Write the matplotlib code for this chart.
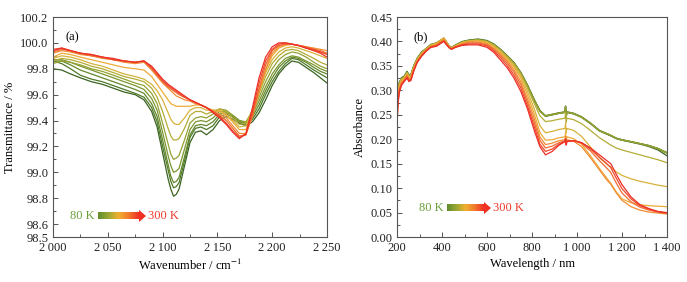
import numpy as np
import matplotlib
matplotlib.use("Agg")
import matplotlib.pyplot as plt
from matplotlib.colors import LinearSegmentedColormap
from matplotlib.patches import Polygon
from matplotlib.ticker import MultipleLocator, FixedLocator

plt.rcParams['font.family'] = ['Liberation Serif', 'DejaVu Serif']
plt.rcParams['mathtext.fontset'] = 'stix'

# ---------------- data ----------------
temps = [80, 100, 120, 140, 160, 180, 200, 220, 240, 260, 280, 300]
colors = ['#3b6322', '#4f7a2a', '#64882c', '#7b962f', '#94a232', '#b4ac36',
          '#d6b23a', '#ecab38', '#f08c34', '#f06b30', '#ee4a2c', '#ec2f28']

# Panel (a): transmittance (%) vs wavenumber (cm-1)
wavenumber = [2000, 2008, 2016, 2025, 2035, 2045, 2055, 2065, 2075, 2083, 2090, 2095, 2100,
              2105, 2107.5, 2110, 2112.5, 2115, 2120, 2125, 2130, 2135, 2140, 2146, 2152, 2158, 2164, 2170,
              2176, 2182, 2188, 2194, 2200, 2206, 2212, 2218, 2224, 2231, 2238, 2244, 2250]
trans_80K = [99.80, 99.79, 99.76, 99.73, 99.70, 99.68, 99.65, 99.62, 99.60, 99.56, 99.47, 99.35, 99.15,
             98.95, 98.87, 98.815, 98.83, 98.87, 99.05, 99.23, 99.31, 99.32, 99.29, 99.33, 99.40, 99.43, 99.41, 99.38,
             99.36, 99.39, 99.46, 99.56, 99.67, 99.76, 99.82, 99.86, 99.85, 99.81, 99.77, 99.73, 99.69]
trans_100K = [99.86, 99.84, 99.80, 99.75, 99.72, 99.70, 99.67, 99.64, 99.61, 99.58, 99.50, 99.39, 99.20,
              99.02, 98.93, 98.88, 98.89, 98.92, 99.09, 99.27, 99.34, 99.35, 99.33, 99.36, 99.43, 99.45, 99.43, 99.39,
              99.37, 99.41, 99.49, 99.60, 99.70, 99.78, 99.84, 99.88, 99.87, 99.83, 99.79, 99.76, 99.73]
trans_120K = [99.86, 99.86, 99.83, 99.79, 99.76, 99.73, 99.70, 99.67, 99.64, 99.61, 99.53, 99.43, 99.25,
              99.06, 98.97, 98.92, 98.93, 98.96, 99.12, 99.29, 99.36, 99.37, 99.36, 99.39, 99.45, 99.46, 99.44, 99.40,
              99.38, 99.43, 99.52, 99.63, 99.73, 99.81, 99.86, 99.89, 99.88, 99.85, 99.81, 99.78, 99.76]
trans_140K = [99.87, 99.87, 99.85, 99.82, 99.79, 99.76, 99.73, 99.70, 99.67, 99.64, 99.57, 99.48, 99.31,
              99.13, 99.05, 99.00, 99.01, 99.03, 99.18, 99.33, 99.39, 99.40, 99.39, 99.42, 99.47, 99.47, 99.44, 99.40,
              99.39, 99.45, 99.55, 99.66, 99.76, 99.83, 99.88, 99.90, 99.89, 99.86, 99.83, 99.80, 99.78]
trans_160K = [99.84, 99.86, 99.85, 99.83, 99.80, 99.78, 99.75, 99.72, 99.69, 99.67, 99.61, 99.53, 99.38,
              99.22, 99.14, 99.10, 99.11, 99.13, 99.25, 99.38, 99.42, 99.43, 99.42, 99.45, 99.49, 99.48, 99.44, 99.39,
              99.39, 99.47, 99.58, 99.70, 99.80, 99.87, 99.91, 99.93, 99.92, 99.89, 99.85, 99.82, 99.80]
trans_180K = [99.86, 99.88, 99.87, 99.85, 99.82, 99.80, 99.77, 99.74, 99.72, 99.70, 99.65, 99.58, 99.47,
              99.34, 99.28, 99.25, 99.25, 99.26, 99.34, 99.44, 99.47, 99.47, 99.45, 99.47, 99.49, 99.47, 99.42, 99.37,
              99.38, 99.48, 99.61, 99.74, 99.84, 99.90, 99.94, 99.95, 99.94, 99.91, 99.88, 99.85, 99.83]
trans_200K = [99.88, 99.90, 99.89, 99.87, 99.84, 99.82, 99.79, 99.76, 99.74, 99.72, 99.68, 99.63, 99.56,
              99.46, 99.41, 99.38, 99.37, 99.37, 99.42, 99.48, 99.50, 99.50, 99.48, 99.48, 99.48, 99.45, 99.40, 99.35,
              99.36, 99.48, 99.63, 99.77, 99.87, 99.93, 99.96, 99.97, 99.96, 99.94, 99.92, 99.90, 99.88]
trans_220K = [99.89, 99.92, 99.91, 99.89, 99.87, 99.85, 99.83, 99.81, 99.80, 99.79, 99.74, 99.68, 99.62,
              99.56, 99.53, 99.52, 99.51, 99.51, 99.51, 99.51, 99.52, 99.52, 99.50, 99.48, 99.47, 99.44, 99.39, 99.33,
              99.33, 99.46, 99.63, 99.79, 99.90, 99.96, 99.98, 99.99, 99.98, 99.96, 99.94, 99.93, 99.92]
trans_240K = [99.92, 99.94, 99.93, 99.91, 99.90, 99.88, 99.87, 99.85, 99.84, 99.85, 99.79, 99.74, 99.69,
              99.65, 99.63, 99.61, 99.59, 99.58, 99.56, 99.55, 99.53, 99.52, 99.50, 99.47, 99.45, 99.42, 99.36, 99.30,
              99.30, 99.43, 99.62, 99.80, 99.92, 99.97, 99.99, 99.99, 99.98, 99.97, 99.96, 99.95, 99.94]
trans_260K = [99.93, 99.95, 99.94, 99.92, 99.90, 99.89, 99.87, 99.86, 99.85, 99.86, 99.80, 99.75, 99.70,
              99.66, 99.645, 99.63, 99.615, 99.60, 99.58, 99.56, 99.54, 99.52, 99.50, 99.47, 99.44, 99.40, 99.34, 99.28,
              99.29, 99.44, 99.65, 99.83, 99.94, 99.98, 99.99, 99.99, 99.98, 99.97, 99.95, 99.94, 99.92]
trans_280K = [99.95, 99.96, 99.94, 99.92, 99.91, 99.89, 99.87, 99.86, 99.85, 99.86, 99.81, 99.76, 99.71,
              99.67, 99.655, 99.64, 99.625, 99.61, 99.58, 99.56, 99.54, 99.52, 99.50, 99.47, 99.43, 99.38, 99.32, 99.27,
              99.29, 99.47, 99.69, 99.86, 99.95, 99.99, 100.00, 99.99, 99.98, 99.96, 99.95, 99.93, 99.91]
trans_300K = [99.94, 99.96, 99.94, 99.92, 99.91, 99.89, 99.88, 99.86, 99.85, 99.86, 99.82, 99.77, 99.72,
              99.68, 99.665, 99.65, 99.635, 99.62, 99.59, 99.56, 99.54, 99.52, 99.50, 99.46, 99.42, 99.37, 99.31, 99.26,
              99.30, 99.50, 99.73, 99.89, 99.97, 100.00, 100.00, 99.99, 99.98, 99.96, 99.94, 99.92, 99.89]

# Panel (b): absorbance vs wavelength (nm)
wavelength = [200, 204, 210, 220, 232, 245, 253, 262, 275, 290, 310, 330, 350, 375, 395, 408, 420,
              432, 442, 460, 490, 520, 560, 600, 630, 660, 690, 720, 750, 780, 810, 835, 860, 890,
              920, 947, 949, 952, 955, 985, 1020, 1060, 1100, 1130, 1150, 1175, 1200, 1240, 1280,
              1320, 1360, 1400]
abs_80K = [0.300, 0.290, 0.315, 0.325, 0.328, 0.338, 0.330, 0.332, 0.350, 0.365, 0.378, 0.385, 0.393,
           0.396, 0.402, 0.406, 0.398, 0.390, 0.387, 0.392, 0.399, 0.402, 0.404, 0.401, 0.394, 0.383,
           0.370, 0.356, 0.336, 0.310, 0.280, 0.258, 0.247, 0.250, 0.253, 0.255, 0.267, 0.246, 0.255,
           0.252, 0.245, 0.232, 0.217, 0.211, 0.207, 0.201, 0.198, 0.194, 0.190, 0.185, 0.178, 0.166]
abs_100K = [0.315, 0.292, 0.316, 0.326, 0.329, 0.339, 0.331, 0.333, 0.351, 0.366, 0.379, 0.386, 0.394,
            0.397, 0.403, 0.407, 0.399, 0.391, 0.388, 0.393, 0.400, 0.403, 0.405, 0.402, 0.395, 0.384,
            0.371, 0.357, 0.337, 0.311, 0.281, 0.259, 0.248, 0.251, 0.254, 0.256, 0.268, 0.247, 0.256,
            0.253, 0.246, 0.233, 0.218, 0.212, 0.208, 0.202, 0.199, 0.195, 0.191, 0.187, 0.181, 0.172]
abs_120K = [0.320, 0.291, 0.314, 0.325, 0.328, 0.337, 0.330, 0.332, 0.350, 0.364, 0.377, 0.385, 0.392,
            0.396, 0.402, 0.405, 0.398, 0.390, 0.387, 0.392, 0.399, 0.402, 0.404, 0.401, 0.394, 0.383,
            0.370, 0.356, 0.336, 0.310, 0.280, 0.258, 0.247, 0.250, 0.253, 0.255, 0.266, 0.246, 0.255,
            0.252, 0.245, 0.232, 0.217, 0.211, 0.207, 0.202, 0.198, 0.195, 0.191, 0.187, 0.181, 0.173]
abs_140K = [0.310, 0.290, 0.314, 0.324, 0.327, 0.337, 0.329, 0.331, 0.349, 0.364, 0.377, 0.384, 0.392,
            0.395, 0.401, 0.405, 0.397, 0.389, 0.386, 0.391, 0.398, 0.401, 0.403, 0.400, 0.393, 0.382,
            0.369, 0.355, 0.336, 0.310, 0.280, 0.258, 0.248, 0.251, 0.254, 0.256, 0.267, 0.247, 0.256,
            0.253, 0.246, 0.233, 0.218, 0.212, 0.208, 0.202, 0.199, 0.195, 0.191, 0.186, 0.180, 0.171]
abs_160K = [0.300, 0.288, 0.313, 0.323, 0.327, 0.336, 0.329, 0.331, 0.349, 0.364, 0.377, 0.385, 0.392,
            0.396, 0.402, 0.406, 0.398, 0.390, 0.387, 0.392, 0.399, 0.402, 0.403, 0.400, 0.393, 0.382,
            0.369, 0.355, 0.335, 0.309, 0.279, 0.257, 0.248, 0.250, 0.253, 0.255, 0.266, 0.246, 0.255,
            0.252, 0.245, 0.232, 0.217, 0.212, 0.208, 0.202, 0.198, 0.195, 0.191, 0.187, 0.181, 0.172]
abs_180K = [0.285, 0.285, 0.312, 0.323, 0.326, 0.336, 0.328, 0.331, 0.349, 0.364, 0.377, 0.385, 0.393,
            0.397, 0.403, 0.407, 0.399, 0.390, 0.387, 0.392, 0.398, 0.401, 0.403, 0.400, 0.393, 0.382,
            0.369, 0.354, 0.334, 0.305, 0.273, 0.248, 0.236, 0.238, 0.241, 0.243, 0.254, 0.234, 0.243,
            0.240, 0.232, 0.218, 0.203, 0.194, 0.188, 0.182, 0.178, 0.173, 0.168, 0.163, 0.158, 0.152]
abs_200K = [0.270, 0.283, 0.311, 0.322, 0.326, 0.335, 0.328, 0.330, 0.348, 0.363, 0.376, 0.384, 0.392,
            0.396, 0.403, 0.407, 0.399, 0.390, 0.387, 0.391, 0.398, 0.401, 0.402, 0.399, 0.391, 0.380,
            0.366, 0.350, 0.330, 0.298, 0.262, 0.228, 0.213, 0.216, 0.220, 0.222, 0.232, 0.213, 0.222,
            0.218, 0.206, 0.184, 0.162, 0.150, 0.143, 0.133, 0.126, 0.119, 0.114, 0.110, 0.106, 0.103]
abs_220K = [0.260, 0.280, 0.309, 0.320, 0.324, 0.333, 0.326, 0.328, 0.346, 0.362, 0.375, 0.383, 0.391,
            0.395, 0.402, 0.406, 0.398, 0.389, 0.386, 0.390, 0.397, 0.400, 0.401, 0.397, 0.389, 0.377,
            0.363, 0.347, 0.325, 0.290, 0.252, 0.214, 0.198, 0.199, 0.203, 0.205, 0.213, 0.197, 0.205,
            0.201, 0.190, 0.166, 0.140, 0.122, 0.110, 0.092, 0.078, 0.070, 0.066, 0.064, 0.063, 0.062]
abs_240K = [0.250, 0.277, 0.305, 0.317, 0.322, 0.331, 0.323, 0.326, 0.345, 0.360, 0.373, 0.382, 0.390,
            0.393, 0.400, 0.404, 0.396, 0.388, 0.385, 0.389, 0.395, 0.399, 0.399, 0.395, 0.386, 0.374,
            0.360, 0.342, 0.318, 0.282, 0.243, 0.205, 0.189, 0.192, 0.197, 0.199, 0.205, 0.192, 0.199,
            0.196, 0.185, 0.162, 0.137, 0.118, 0.108, 0.090, 0.075, 0.062, 0.055, 0.051, 0.049, 0.047]
abs_260K = [0.240, 0.275, 0.301, 0.314, 0.320, 0.329, 0.321, 0.324, 0.343, 0.359, 0.372, 0.382, 0.389,
            0.392, 0.398, 0.402, 0.395, 0.388, 0.385, 0.389, 0.394, 0.397, 0.397, 0.393, 0.384, 0.371,
            0.356, 0.337, 0.312, 0.275, 0.234, 0.198, 0.182, 0.186, 0.193, 0.197, 0.202, 0.190, 0.197,
            0.197, 0.192, 0.176, 0.156, 0.142, 0.132, 0.110, 0.090, 0.072, 0.061, 0.055, 0.051, 0.049]
abs_280K = [0.230, 0.272, 0.298, 0.312, 0.319, 0.327, 0.319, 0.322, 0.341, 0.358, 0.371, 0.381, 0.388,
            0.391, 0.397, 0.401, 0.394, 0.387, 0.384, 0.388, 0.393, 0.395, 0.395, 0.391, 0.381, 0.367,
            0.351, 0.331, 0.305, 0.268, 0.226, 0.190, 0.175, 0.180, 0.190, 0.196, 0.201, 0.189, 0.196,
            0.197, 0.193, 0.180, 0.163, 0.151, 0.142, 0.120, 0.099, 0.078, 0.064, 0.057, 0.052, 0.050]
abs_300K = [0.225, 0.270, 0.295, 0.310, 0.318, 0.325, 0.318, 0.320, 0.340, 0.357, 0.370, 0.380, 0.388,
            0.390, 0.396, 0.400, 0.393, 0.387, 0.384, 0.388, 0.392, 0.393, 0.393, 0.388, 0.378, 0.362,
            0.346, 0.325, 0.298, 0.262, 0.218, 0.185, 0.168, 0.175, 0.188, 0.195, 0.200, 0.188, 0.195,
            0.197, 0.193, 0.182, 0.168, 0.157, 0.150, 0.128, 0.107, 0.082, 0.066, 0.058, 0.052, 0.049]

trans_series = [trans_80K, trans_100K, trans_120K, trans_140K, trans_160K, trans_180K,
                trans_200K, trans_220K, trans_240K, trans_260K, trans_280K, trans_300K]
abs_series = [abs_80K, abs_100K, abs_120K, abs_140K, abs_160K, abs_180K,
              abs_200K, abs_220K, abs_240K, abs_260K, abs_280K, abs_300K]

xticks_a = [2000, 2050, 2100, 2150, 2200, 2250]
xticklabels_a = ['2\u2009000', '2\u2009050', '2\u2009100', '2\u2009150', '2\u2009200', '2\u2009250']
yticks_a = [98.5, 98.6, 98.8, 99.0, 99.2, 99.4, 99.6, 99.8, 100.0, 100.2]
xticks_b = [200, 400, 600, 800, 1000, 1200, 1400]
xticklabels_b = ['200', '400', '600', '800', '1\u2009000', '1\u2009200', '1\u2009400']
yticks_b = [0.00, 0.05, 0.10, 0.15, 0.20, 0.25, 0.30, 0.35, 0.40, 0.45]

# ---------------- figure ----------------
W, H = 687, 282
fig = plt.figure(figsize=(W / 100, H / 100), dpi=100)
ax1 = fig.add_axes([53 / W, 1 - 237 / H, 274 / W, 220 / H])
ax2 = fig.add_axes([397 / W, 1 - 237 / H, 270 / W, 220 / H])

FS = 9
spine_c = '#555555'
legend_cmap = LinearSegmentedColormap.from_list('lg', ['#5f8c2e', '#9aa834', '#f0b030', '#f27a2e', '#f03022'])

for ax in (ax1, ax2):
    for s in ax.spines.values():
        s.set_color(spine_c)
        s.set_linewidth(0.8)
    ax.tick_params(which='both', direction='in', top=False, right=False, colors=spine_c,
                   labelcolor='#222222', labelsize=FS, width=0.7)
    ax.tick_params(which='major', length=3.5)
    ax.tick_params(which='minor', length=2)

# panel a
for y, c in zip(trans_series, colors):
    ax1.plot(wavenumber, y, color=c, lw=0.9)
ax1.set_xlim(2000, 2250)
ax1.set_ylim(98.5, 100.2)
ax1.set_xticks(xticks_a)
ax1.set_xticklabels(xticklabels_a)
ax1.xaxis.set_minor_locator(MultipleLocator(25))
ax1.set_yticks(yticks_a)
ax1.set_yticklabels([f'{v:.1f}' for v in yticks_a])
ax1.yaxis.set_minor_locator(FixedLocator([98.7, 98.9, 99.1, 99.3, 99.5, 99.7, 99.9, 100.1]))
ax1.set_xlabel('Wavenumber / cm$^{-1}$', fontsize=FS, labelpad=3)
ax1.set_ylabel('Transmittance / %', fontsize=FS, labelpad=3)
ax1.text(0.045, 0.935, '(a)', transform=ax1.transAxes, fontsize=FS, va='top', ha='left')

# panel b
for y, c in zip(abs_series, colors):
    ax2.plot(wavelength, y, color=c, lw=0.9)
ax2.set_xlim(200, 1400)
ax2.set_ylim(0, 0.45)
ax2.set_xticks(xticks_b)
ax2.set_xticklabels(xticklabels_b)
ax2.xaxis.set_minor_locator(MultipleLocator(100))
ax2.set_yticks(yticks_b)
ax2.set_yticklabels([f'{v:.2f}' for v in yticks_b])
ax2.yaxis.set_minor_locator(MultipleLocator(0.025))
ax2.set_xlabel('Wavelength / nm', fontsize=FS, labelpad=3)
ax2.set_ylabel('Absorbance', fontsize=FS, labelpad=3)
ax2.text(0.06, 0.935, '(b)', transform=ax2.transAxes, fontsize=FS, va='top', ha='left')


def temp_legend(ax, fx0, fx1, ftip, fy, fh, fhh, tlo, thi):
    # coordinates in axes fraction
    grad = np.linspace(0, 1, 256)[None, :]
    ax.imshow(grad, cmap=legend_cmap, extent=[fx0, fx1, fy - fh / 2, fy + fh / 2],
              transform=ax.transAxes, aspect='auto', zorder=6)
    ax.add_patch(Polygon([[fx1, fy - fhh / 2], [fx1, fy + fhh / 2], [ftip, fy]], closed=True,
                         transform=ax.transAxes, facecolor='#f03022', edgecolor='none', zorder=6))
    ax.text(fx0 - 0.012, fy, tlo, transform=ax.transAxes, ha='right', va='center',
            fontsize=FS, color='#6aa03a')
    ax.text(ftip + 0.008, fy, thi, transform=ax.transAxes, ha='left', va='center',
            fontsize=FS, color='#ee3a2c')


temp_legend(ax1, (98 - 53) / 274, (139 - 53) / 274, (146 - 53) / 274, (237 - 216) / 220,
            0.028, 0.055, f'{temps[0]} K', f'{temps[-1]} K')
temp_legend(ax2, (447 - 397) / 270, (484 - 397) / 270, (491 - 397) / 270, (237 - 208) / 220,
            0.028, 0.055, f'{temps[0]} K', f'{temps[-1]} K')
ax1.set_xlim(2000, 2250); ax1.set_ylim(98.5, 100.2)
ax2.set_xlim(200, 1400); ax2.set_ylim(0, 0.45)

fig.savefig('out.png', dpi=100)
